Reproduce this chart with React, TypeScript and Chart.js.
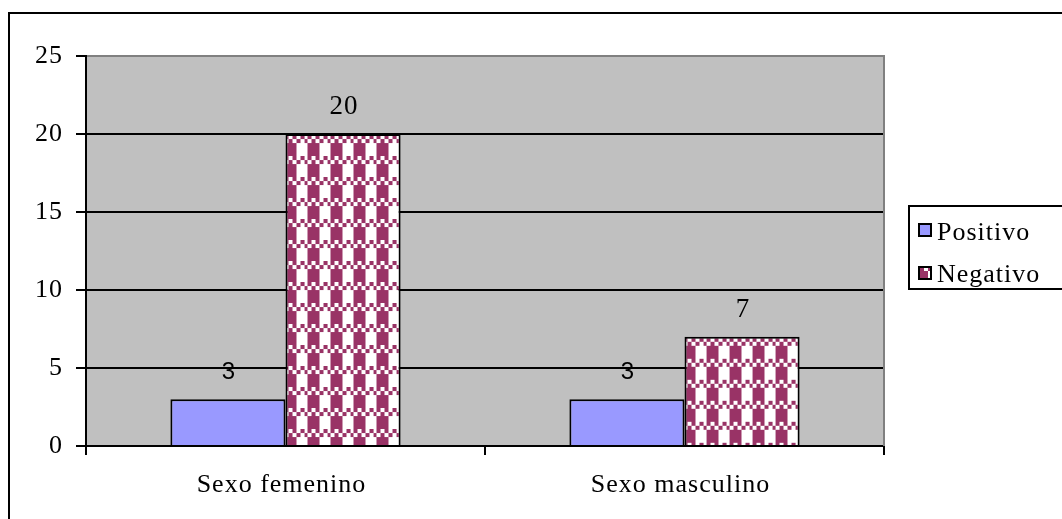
import { useEffect, useRef } from 'react';
import { Chart, registerables } from 'chart.js';

Chart.register(...registerables);

// Data
const categories = ['Sexo femenino', 'Sexo masculino'];
const seriesNames = ['Positivo', 'Negativo'];
const positivo = [3, 3];
const negativo = [20, 7];
const yTicks = [0, 5, 10, 15, 20, 25];

// Styles
const POS_COLOR = '#9999ff';
const NEG_COLOR = '#993366';
const PLOT_BG = '#c0c0c0';
const PLOT_EDGE = '#808080';
const SERIF = '"Liberation Serif", "Times New Roman", serif';
const SANS = '"Liberation Sans", Arial, sans-serif';
const SPACING = '1px';

// Checkered tile used to fill the "Negativo" bars
function makeTile(): HTMLCanvasElement {
  const c = document.createElement('canvas');
  c.width = 23;
  c.height = 21;
  const g = c.getContext('2d')!;
  g.fillStyle = '#ffffff';
  g.fillRect(0, 0, 23, 21);
  g.fillStyle = NEG_COLOR;
  const xs = [0, 4, 8, 12, 16, 20, 23];
  for (let r = 0; r < 2; r++) {
    for (let k = 0; k < 6; k++) {
      if ((r + k) % 2 === 0) g.fillRect(xs[k], r * 4, xs[k + 1] - xs[k], 4);
    }
  }
  g.fillRect(0, 8, 12, 13);
  return c;
}

function patternAt(ctx: CanvasRenderingContext2D, tile: HTMLCanvasElement, x: number, y: number) {
  const p = ctx.createPattern(tile, 'repeat')!;
  p.setTransform(new DOMMatrix().translate(x, y));
  return p;
}

export default function App() {
  const canvasRef = useRef<HTMLCanvasElement | null>(null);

  useEffect(() => {
    const canvas = canvasRef.current;
    if (!canvas) return;
    const tile = makeTile();

    const framePlugin = {
      id: 'frame',
      beforeDraw(chart: any) {
        const { ctx, chartArea: a } = chart;
        ctx.save();
        ctx.fillStyle = '#ffffff';
        ctx.fillRect(0, 0, chart.width, chart.height);
        ctx.fillStyle = PLOT_BG;
        ctx.fillRect(a.left, a.top, a.right - a.left, a.bottom - a.top);
        ctx.restore();
        ctx.letterSpacing = SPACING;
      },
      beforeDatasetsDraw(chart: any) {
        const { ctx } = chart;
        const meta = chart.getDatasetMeta(1);
        meta.data.forEach((el: any) => {
          const left = el.x - el.width / 2;
          el.options = Object.assign({}, el.options, {
            backgroundColor: patternAt(ctx, tile, left - 1, el.y + 1),
          });
        });
      },
      afterDatasetsDraw(chart: any) {
        const { ctx, chartArea: a } = chart;
        ctx.save();
        // right edge of the plot area
        ctx.strokeStyle = PLOT_EDGE;
        ctx.lineWidth = 2;
        ctx.beginPath();
        ctx.moveTo(a.right, a.top - 1);
        ctx.lineTo(a.right, a.bottom);
        ctx.stroke();

        // value labels above the bars
        ctx.fillStyle = '#000000';
        ctx.textAlign = 'center';
        ctx.textBaseline = 'middle';
        ctx.letterSpacing = SPACING;
        chart.data.datasets.forEach((ds: any, di: number) => {
          const meta = chart.getDatasetMeta(di);
          ctx.font = di === 0 ? `24px ${SANS}` : `27px ${SERIF}`;
          meta.data.forEach((el: any, i: number) => {
            ctx.fillText(String(ds.data[i]), el.x + 1, el.y - 27);
          });
        });
        ctx.restore();
      },
      afterDraw(chart: any) {
        const { ctx } = chart;
        ctx.save();
        // outer chart border
        ctx.strokeStyle = '#000000';
        ctx.lineWidth = 2;
        ctx.strokeRect(9, 13, 1100, 560);

        // legend box
        ctx.fillStyle = '#ffffff';
        ctx.fillRect(909, 206, 200, 83);
        ctx.strokeRect(909, 206, 200, 83);

        ctx.font = `26px ${SERIF}`;
        ctx.letterSpacing = SPACING;
        ctx.textAlign = 'left';
        ctx.textBaseline = 'alphabetic';
        const rows = [
          { top: 223, base: 240 },
          { top: 266, base: 282 },
        ];
        chart.data.datasets.forEach((ds: any, di: number) => {
          const r = rows[di];
          ctx.fillStyle = di === 0 ? POS_COLOR : patternAt(ctx, tile, 916, r.top - 3);
          ctx.fillRect(919, r.top + 1, 12, 12);
          ctx.strokeStyle = '#000000';
          ctx.lineWidth = 2;
          ctx.strokeRect(919, r.top + 1, 12, 12);
          ctx.fillStyle = '#000000';
          ctx.fillText(ds.label, 937, r.base);
        });
        ctx.restore();
      },
    };

    const chart = new Chart(canvas, {
      type: 'bar',
      data: {
        labels: categories,
        datasets: [
          {
            label: seriesNames[0],
            data: positivo,
            backgroundColor: POS_COLOR,
            borderColor: '#000000',
            borderWidth: 2,
            categoryPercentage: 0.577,
            barPercentage: 1,
          },
          {
            label: seriesNames[1],
            data: negativo,
            backgroundColor: NEG_COLOR,
            borderColor: '#000000',
            borderWidth: 2,
            categoryPercentage: 0.577,
            barPercentage: 1,
          },
        ],
      },
      options: {
        responsive: false,
        animation: false,
        devicePixelRatio: 1,
        layout: { padding: { left: 0, top: 56, right: 178, bottom: 0 } },
        plugins: {
          legend: { display: false },
          tooltip: { enabled: false },
          title: { display: false },
        },
        scales: {
          x: {
            grid: {
              offset: true,
              drawOnChartArea: false,
              drawTicks: true,
              tickLength: 9,
              color: '#000000',
              lineWidth: 2,
            },
            border: { color: '#000000', width: 2 },
            ticks: {
              color: '#000000',
              font: { family: SERIF, size: 26 },
              padding: 15,
              labelOffset: -4,
              maxRotation: 0,
            },
            afterFit(scale: any) {
              scale.height = 73;
            },
          },
          y: {
            min: yTicks[0],
            max: yTicks[yTicks.length - 1],
            afterBuildTicks(scale: any) {
              scale.ticks = yTicks.map((v) => ({ value: v }));
            },
            grid: {
              color: (c: any) => (c.tick && c.tick.value === yTicks[yTicks.length - 1] ? PLOT_EDGE : '#000000'),
              tickColor: '#000000',
              lineWidth: 2,
              tickLength: 10,
              drawTicks: true,
            },
            border: { color: '#000000', width: 2 },
            ticks: {
              color: '#000000',
              font: { family: SERIF, size: 26 },
              padding: 13,
            },
            afterFit(scale: any) {
              scale.width = 86;
            },
          },
        },
      },
      plugins: [framePlugin],
    } as any);

    return () => chart.destroy();
  }, []);

  return (
    <div style={{ position: 'absolute', left: 0, top: 0, width: 1062, height: 519 }}>
      <canvas ref={canvasRef} width={1062} height={519} style={{ width: 1062, height: 519, display: 'block' }} />
    </div>
  );
}
